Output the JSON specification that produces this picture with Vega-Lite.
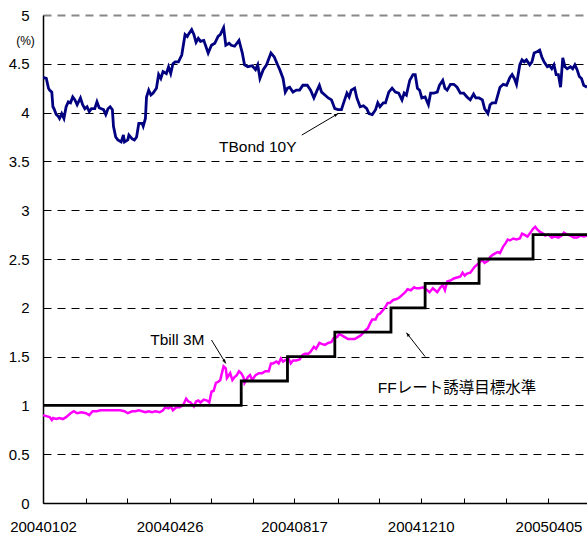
{
  "$schema": "https://vega.github.io/schema/vega-lite/v6.json",
  "width": 544,
  "height": 488,
  "autosize": {"type": "none"},
  "padding": {"left": 43, "top": 15, "right": 0, "bottom": 33},
  "background": "white",
  "config": {
    "view": {"stroke": null},
    "font": "Liberation Sans",
    "axis": {"labelFont": "Liberation Sans", "labelColor": "black", "titleColor": "black", "titleFont": "Liberation Sans"}
  },
  "datasets": {
    "ff": [
      {"date": "2004-01-02", "value": 1.00},
      {"date": "2004-06-30", "value": 1.25},
      {"date": "2004-08-11", "value": 1.50},
      {"date": "2004-09-23", "value": 1.75},
      {"date": "2004-11-13", "value": 2.00},
      {"date": "2004-12-14", "value": 2.25},
      {"date": "2005-02-01", "value": 2.50},
      {"date": "2005-03-22", "value": 2.75},
      {"date": "2005-05-10", "value": 2.75}
    ],
    "bond": [
      {"date":"2004-01-02","value":4.36},{"date":"2004-01-05","value":4.35},{"date":"2004-01-07","value":4.25},{"date":"2004-01-08","value":4.23},{"date":"2004-01-10","value":4.21},{"date":"2004-01-11","value":4.06},{"date":"2004-01-12","value":4.04},{"date":"2004-01-14","value":3.98},{"date":"2004-01-16","value":3.96},{"date":"2004-01-17","value":3.94},{"date":"2004-01-19","value":3.99},{"date":"2004-01-21","value":3.94},{"date":"2004-01-23","value":4.06},{"date":"2004-01-25","value":4.11},{"date":"2004-01-27","value":4.10},{"date":"2004-01-29","value":4.16},{"date":"2004-01-31","value":4.13},
      {"date":"2004-02-02","value":4.08},{"date":"2004-02-05","value":4.15},{"date":"2004-02-07","value":4.08},{"date":"2004-02-09","value":4.04},{"date":"2004-02-11","value":4.06},{"date":"2004-02-13","value":4.01},{"date":"2004-02-15","value":4.04},{"date":"2004-02-18","value":4.04},{"date":"2004-02-20","value":4.11},{"date":"2004-02-22","value":4.05},{"date":"2004-02-24","value":4.04},{"date":"2004-02-26","value":4.03},{"date":"2004-02-28","value":3.98},
      {"date":"2004-03-01","value":4.04},{"date":"2004-03-03","value":4.06},{"date":"2004-03-05","value":4.03},{"date":"2004-03-06","value":3.86},{"date":"2004-03-08","value":3.75},{"date":"2004-03-10","value":3.72},{"date":"2004-03-13","value":3.70},{"date":"2004-03-15","value":3.77},{"date":"2004-03-16","value":3.70},{"date":"2004-03-19","value":3.72},{"date":"2004-03-20","value":3.77},{"date":"2004-03-23","value":3.73},{"date":"2004-03-25","value":3.72},{"date":"2004-03-27","value":3.75},{"date":"2004-03-29","value":3.89},
      {"date":"2004-04-01","value":3.89},{"date":"2004-04-02","value":3.86},{"date":"2004-04-04","value":3.94},{"date":"2004-04-05","value":4.16},{"date":"2004-04-07","value":4.23},{"date":"2004-04-09","value":4.18},{"date":"2004-04-11","value":4.20},{"date":"2004-04-14","value":4.25},{"date":"2004-04-16","value":4.39},{"date":"2004-04-18","value":4.35},{"date":"2004-04-20","value":4.42},{"date":"2004-04-23","value":4.40},{"date":"2004-04-25","value":4.47},{"date":"2004-04-27","value":4.40},{"date":"2004-04-29","value":4.50},
      {"date":"2004-05-01","value":4.52},{"date":"2004-05-04","value":4.52},{"date":"2004-05-07","value":4.59},{"date":"2004-05-10","value":4.80},{"date":"2004-05-12","value":4.78},{"date":"2004-05-13","value":4.80},{"date":"2004-05-16","value":4.85},{"date":"2004-05-18","value":4.80},{"date":"2004-05-20","value":4.72},{"date":"2004-05-22","value":4.76},{"date":"2004-05-24","value":4.73},{"date":"2004-05-27","value":4.74},{"date":"2004-05-31","value":4.61},
      {"date":"2004-06-03","value":4.69},{"date":"2004-06-06","value":4.71},{"date":"2004-06-09","value":4.78},{"date":"2004-06-11","value":4.80},{"date":"2004-06-14","value":4.87},{"date":"2004-06-16","value":4.69},{"date":"2004-06-19","value":4.71},{"date":"2004-06-21","value":4.69},{"date":"2004-06-24","value":4.68},{"date":"2004-06-28","value":4.74},
      {"date":"2004-07-01","value":4.61},{"date":"2004-07-03","value":4.49},{"date":"2004-07-06","value":4.47},{"date":"2004-07-10","value":4.48},{"date":"2004-07-13","value":4.44},{"date":"2004-07-15","value":4.49},{"date":"2004-07-17","value":4.35},{"date":"2004-07-20","value":4.44},{"date":"2004-07-23","value":4.49},{"date":"2004-07-27","value":4.61},{"date":"2004-07-30","value":4.57},
      {"date":"2004-08-02","value":4.49},{"date":"2004-08-04","value":4.44},{"date":"2004-08-07","value":4.35},{"date":"2004-08-09","value":4.21},{"date":"2004-08-11","value":4.25},{"date":"2004-08-13","value":4.26},{"date":"2004-08-16","value":4.21},{"date":"2004-08-19","value":4.23},{"date":"2004-08-22","value":4.23},{"date":"2004-08-25","value":4.28},{"date":"2004-08-29","value":4.28},
      {"date":"2004-09-01","value":4.23},{"date":"2004-09-04","value":4.15},{"date":"2004-09-07","value":4.23},{"date":"2004-09-09","value":4.28},{"date":"2004-09-11","value":4.21},{"date":"2004-09-14","value":4.18},{"date":"2004-09-17","value":4.15},{"date":"2004-09-20","value":4.13},{"date":"2004-09-23","value":4.04},{"date":"2004-09-26","value":4.03},{"date":"2004-09-29","value":4.03},
      {"date":"2004-10-01","value":4.10},{"date":"2004-10-04","value":4.20},{"date":"2004-10-06","value":4.16},{"date":"2004-10-08","value":4.23},{"date":"2004-10-11","value":4.25},{"date":"2004-10-13","value":4.15},{"date":"2004-10-16","value":4.06},{"date":"2004-10-19","value":4.07},{"date":"2004-10-22","value":4.04},{"date":"2004-10-24","value":3.99},{"date":"2004-10-27","value":3.98},{"date":"2004-10-30","value":4.03},
      {"date":"2004-11-01","value":4.10},{"date":"2004-11-03","value":4.06},{"date":"2004-11-06","value":4.10},{"date":"2004-11-08","value":4.10},{"date":"2004-11-11","value":4.21},{"date":"2004-11-14","value":4.25},{"date":"2004-11-17","value":4.21},{"date":"2004-11-20","value":4.20},{"date":"2004-11-23","value":4.13},{"date":"2004-11-25","value":4.20},{"date":"2004-11-27","value":4.18},{"date":"2004-11-30","value":4.33},
      {"date":"2004-12-03","value":4.39},{"date":"2004-12-05","value":4.39},{"date":"2004-12-07","value":4.25},{"date":"2004-12-09","value":4.23},{"date":"2004-12-11","value":4.15},{"date":"2004-12-14","value":4.16},{"date":"2004-12-17","value":4.08},{"date":"2004-12-19","value":4.20},{"date":"2004-12-22","value":4.20},{"date":"2004-12-25","value":4.21},{"date":"2004-12-27","value":4.28},{"date":"2004-12-30","value":4.33},
      {"date":"2005-01-01","value":4.25},{"date":"2005-01-03","value":4.23},{"date":"2005-01-06","value":4.29},{"date":"2005-01-09","value":4.29},{"date":"2005-01-12","value":4.26},{"date":"2005-01-15","value":4.20},{"date":"2005-01-18","value":4.20},{"date":"2005-01-21","value":4.16},{"date":"2005-01-24","value":4.13},{"date":"2005-01-27","value":4.19},{"date":"2005-01-29","value":4.15},
      {"date":"2005-02-01","value":4.15},{"date":"2005-02-04","value":4.13},{"date":"2005-02-06","value":4.04},{"date":"2005-02-09","value":3.99},{"date":"2005-02-11","value":4.08},{"date":"2005-02-13","value":4.10},{"date":"2005-02-16","value":4.10},{"date":"2005-02-18","value":4.18},{"date":"2005-02-20","value":4.26},{"date":"2005-02-23","value":4.29},{"date":"2005-02-26","value":4.28},
      {"date":"2005-03-01","value":4.36},{"date":"2005-03-03","value":4.39},{"date":"2005-03-05","value":4.35},{"date":"2005-03-07","value":4.29},{"date":"2005-03-10","value":4.49},{"date":"2005-03-12","value":4.54},{"date":"2005-03-14","value":4.52},{"date":"2005-03-16","value":4.54},{"date":"2005-03-19","value":4.49},{"date":"2005-03-21","value":4.52},{"date":"2005-03-23","value":4.61},{"date":"2005-03-25","value":4.62},{"date":"2005-03-28","value":4.64},{"date":"2005-03-30","value":4.57},
      {"date":"2005-04-01","value":4.52},{"date":"2005-04-04","value":4.47},{"date":"2005-04-06","value":4.48},{"date":"2005-04-08","value":4.45},{"date":"2005-04-10","value":4.49},{"date":"2005-04-12","value":4.39},{"date":"2005-04-14","value":4.39},{"date":"2005-04-16","value":4.26},{"date":"2005-04-18","value":4.56},{"date":"2005-04-20","value":4.47},{"date":"2005-04-22","value":4.45},{"date":"2005-04-25","value":4.47},{"date":"2005-04-27","value":4.45},{"date":"2005-04-29","value":4.49},
      {"date":"2005-05-01","value":4.44},{"date":"2005-05-03","value":4.37},{"date":"2005-05-05","value":4.35},{"date":"2005-05-07","value":4.28},{"date":"2005-05-10","value":4.26}
    ],
    "bill": [
      {"date":"2004-01-02","value":0.90},{"date":"2004-01-05","value":0.89},{"date":"2004-01-08","value":0.88},{"date":"2004-01-10","value":0.85},{"date":"2004-01-11","value":0.87},{"date":"2004-01-14","value":0.86},{"date":"2004-01-17","value":0.87},{"date":"2004-01-20","value":0.86},{"date":"2004-01-23","value":0.88},{"date":"2004-01-27","value":0.92},{"date":"2004-01-30","value":0.94},
      {"date":"2004-02-02","value":0.92},{"date":"2004-02-06","value":0.93},{"date":"2004-02-10","value":0.92},{"date":"2004-02-13","value":0.90},{"date":"2004-02-16","value":0.94},{"date":"2004-02-20","value":0.94},{"date":"2004-02-23","value":0.95},{"date":"2004-02-29","value":0.95},
      {"date":"2004-03-06","value":0.95},{"date":"2004-03-12","value":0.95},{"date":"2004-03-16","value":0.94},{"date":"2004-03-19","value":0.92},{"date":"2004-03-23","value":0.94},{"date":"2004-03-26","value":0.94},{"date":"2004-03-29","value":0.95},
      {"date":"2004-04-01","value":0.94},{"date":"2004-04-04","value":0.93},{"date":"2004-04-07","value":0.94},{"date":"2004-04-10","value":0.93},{"date":"2004-04-13","value":0.94},{"date":"2004-04-17","value":0.93},{"date":"2004-04-20","value":0.95},{"date":"2004-04-22","value":0.98},{"date":"2004-04-25","value":0.97},{"date":"2004-04-27","value":0.99},{"date":"2004-04-29","value":0.95},
      {"date":"2004-05-02","value":0.98},{"date":"2004-05-05","value":0.98},{"date":"2004-05-08","value":1.00},{"date":"2004-05-09","value":1.02},{"date":"2004-05-11","value":1.07},{"date":"2004-05-13","value":1.04},{"date":"2004-05-15","value":1.03},{"date":"2004-05-18","value":0.99},{"date":"2004-05-20","value":1.04},{"date":"2004-05-22","value":1.05},{"date":"2004-05-24","value":1.03},{"date":"2004-05-27","value":1.06},{"date":"2004-05-30","value":1.05},
      {"date":"2004-06-01","value":1.03},{"date":"2004-06-03","value":1.14},{"date":"2004-06-05","value":1.15},{"date":"2004-06-07","value":1.23},{"date":"2004-06-09","value":1.24},{"date":"2004-06-11","value":1.26},{"date":"2004-06-12","value":1.31},{"date":"2004-06-14","value":1.40},{"date":"2004-06-16","value":1.38},{"date":"2004-06-17","value":1.28},{"date":"2004-06-20","value":1.33},{"date":"2004-06-22","value":1.26},{"date":"2004-06-24","value":1.29},{"date":"2004-06-26","value":1.31},{"date":"2004-06-28","value":1.35},{"date":"2004-06-30","value":1.33},
      {"date":"2004-07-02","value":1.29},{"date":"2004-07-03","value":1.23},{"date":"2004-07-06","value":1.29},{"date":"2004-07-08","value":1.31},{"date":"2004-07-10","value":1.26},{"date":"2004-07-13","value":1.31},{"date":"2004-07-16","value":1.33},{"date":"2004-07-19","value":1.33},{"date":"2004-07-22","value":1.35},{"date":"2004-07-25","value":1.35},{"date":"2004-07-27","value":1.43},{"date":"2004-07-29","value":1.43},
      {"date":"2004-08-01","value":1.45},{"date":"2004-08-03","value":1.43},{"date":"2004-08-05","value":1.48},{"date":"2004-08-07","value":1.45},{"date":"2004-08-10","value":1.47},{"date":"2004-08-12","value":1.48},{"date":"2004-08-14","value":1.43},{"date":"2004-08-16","value":1.46},{"date":"2004-08-19","value":1.46},{"date":"2004-08-22","value":1.47},{"date":"2004-08-25","value":1.52},{"date":"2004-08-27","value":1.53},{"date":"2004-08-30","value":1.53},
      {"date":"2004-09-01","value":1.55},{"date":"2004-09-04","value":1.60},{"date":"2004-09-06","value":1.58},{"date":"2004-09-09","value":1.64},{"date":"2004-09-11","value":1.63},{"date":"2004-09-14","value":1.62},{"date":"2004-09-17","value":1.64},{"date":"2004-09-20","value":1.65},{"date":"2004-09-22","value":1.69},{"date":"2004-09-25","value":1.70},{"date":"2004-09-27","value":1.73},{"date":"2004-09-29","value":1.72},
      {"date":"2004-10-02","value":1.70},{"date":"2004-10-05","value":1.68},{"date":"2004-10-08","value":1.68},{"date":"2004-10-11","value":1.68},{"date":"2004-10-14","value":1.70},{"date":"2004-10-17","value":1.72},{"date":"2004-10-20","value":1.76},{"date":"2004-10-23","value":1.79},{"date":"2004-10-25","value":1.84},{"date":"2004-10-27","value":1.88},{"date":"2004-10-30","value":1.88},
      {"date":"2004-11-01","value":1.93},{"date":"2004-11-03","value":1.94},{"date":"2004-11-06","value":1.98},{"date":"2004-11-08","value":2.01},{"date":"2004-11-10","value":2.05},{"date":"2004-11-12","value":2.05},{"date":"2004-11-15","value":2.08},{"date":"2004-11-18","value":2.09},{"date":"2004-11-20","value":2.10},{"date":"2004-11-23","value":2.13},{"date":"2004-11-26","value":2.16},{"date":"2004-11-28","value":2.19},
      {"date":"2004-12-01","value":2.18},{"date":"2004-12-04","value":2.21},{"date":"2004-12-06","value":2.20},{"date":"2004-12-09","value":2.20},{"date":"2004-12-12","value":2.21},{"date":"2004-12-16","value":2.18},{"date":"2004-12-18","value":2.16},{"date":"2004-12-21","value":2.20},{"date":"2004-12-23","value":2.18},{"date":"2004-12-25","value":2.16},{"date":"2004-12-28","value":2.21},{"date":"2004-12-30","value":2.23},
      {"date":"2005-01-01","value":2.18},{"date":"2005-01-03","value":2.27},{"date":"2005-01-06","value":2.28},{"date":"2005-01-09","value":2.30},{"date":"2005-01-12","value":2.31},{"date":"2005-01-15","value":2.32},{"date":"2005-01-17","value":2.36},{"date":"2005-01-19","value":2.33},{"date":"2005-01-21","value":2.35},{"date":"2005-01-24","value":2.36},{"date":"2005-01-26","value":2.39},{"date":"2005-01-28","value":2.42},{"date":"2005-01-30","value":2.44},
      {"date":"2005-02-02","value":2.47},{"date":"2005-02-04","value":2.49},{"date":"2005-02-06","value":2.46},{"date":"2005-02-09","value":2.48},{"date":"2005-02-11","value":2.52},{"date":"2005-02-13","value":2.54},{"date":"2005-02-16","value":2.56},{"date":"2005-02-18","value":2.57},{"date":"2005-02-20","value":2.56},{"date":"2005-02-23","value":2.63},{"date":"2005-02-25","value":2.66},{"date":"2005-02-27","value":2.70},
      {"date":"2005-03-01","value":2.69},{"date":"2005-03-04","value":2.71},{"date":"2005-03-07","value":2.70},{"date":"2005-03-10","value":2.71},{"date":"2005-03-12","value":2.76},{"date":"2005-03-14","value":2.75},{"date":"2005-03-17","value":2.73},{"date":"2005-03-19","value":2.76},{"date":"2005-03-22","value":2.81},{"date":"2005-03-24","value":2.83},{"date":"2005-03-26","value":2.80},{"date":"2005-03-28","value":2.78},{"date":"2005-03-31","value":2.76},
      {"date":"2005-04-02","value":2.74},{"date":"2005-04-05","value":2.75},{"date":"2005-04-08","value":2.72},{"date":"2005-04-11","value":2.73},{"date":"2005-04-14","value":2.72},{"date":"2005-04-17","value":2.74},{"date":"2005-04-19","value":2.77},{"date":"2005-04-22","value":2.75},{"date":"2005-04-25","value":2.74},{"date":"2005-04-28","value":2.72},
      {"date":"2005-05-01","value":2.72},{"date":"2005-05-04","value":2.74},{"date":"2005-05-07","value":2.73},{"date":"2005-05-10","value":2.74}
    ],
    "arrows": [
      {"label": "TBond 10Y", "x1": "2004-08-24", "y1": 3.77, "x2": "2004-09-26", "y2": 3.99},
      {"label": "Tbill 3M", "x1": "2004-06-03", "y1": 1.67, "x2": "2004-06-16", "y2": 1.43},
      {"label": "FF", "x1": "2004-12-14", "y1": 1.50, "x2": "2004-11-27", "y2": 1.745}
    ],
    "labels": [
      {"text": "TBond 10Y", "date": "2004-07-15", "value": 3.65},
      {"text": "Tbill 3M", "date": "2004-05-03", "value": 1.67},
      {"text": "FFレート誘導目標水準", "date": "2005-01-12", "value": 1.175}
    ]
  },
  "layer": [
    {
      "data": {"name": "bill"},
      "mark": {"type": "line", "color": "#FF00FF", "strokeWidth": 2.5, "clip": true},
      "encoding": {
        "x": {
          "field": "date", "type": "temporal",
          "scale": {"type": "utc", "domain": [{"year": 2004, "month": 1, "date": 2, "utc": true}, {"year": 2005, "month": 5, "date": 10, "utc": true}]},
          "axis": {
            "title": null, "grid": false,
            "values": [
              {"year": 2004, "month": 1, "date": 2, "utc": true},
              {"year": 2004, "month": 2, "date": 10, "utc": true},
              {"year": 2004, "month": 3, "date": 18, "utc": true},
              {"year": 2004, "month": 4, "date": 26, "utc": true},
              {"year": 2004, "month": 6, "date": 3, "utc": true},
              {"year": 2004, "month": 7, "date": 11, "utc": true},
              {"year": 2004, "month": 8, "date": 17, "utc": true},
              {"year": 2004, "month": 9, "date": 26, "utc": true},
              {"year": 2004, "month": 11, "date": 2, "utc": true},
              {"year": 2004, "month": 12, "date": 10, "utc": true},
              {"year": 2005, "month": 1, "date": 18, "utc": true},
              {"year": 2005, "month": 2, "date": 25, "utc": true},
              {"year": 2005, "month": 4, "date": 5, "utc": true}
            ],
            "labelExpr": "indexof(['20040102','20040426','20040817','20041210','20050405'], utcFormat(datum.value, '%Y%m%d')) >= 0 ? utcFormat(datum.value, '%Y%m%d') : ''",
            "labelOverlap": false, "labelFlush": false, "labelBound": false,
            "labelFontSize": 15, "labelPadding": 21,
            "domainColor": "black", "domainWidth": 1.5,
            "tickColor": "black", "tickWidth": 1, "tickSize": -5
          }
        },
        "y": {
          "field": "value", "type": "quantitative",
          "scale": {"domain": [0, 5], "nice": false, "zero": false},
          "axis": {
            "values": [0, 0.5, 1, 1.5, 2, 2.5, 3, 3.5, 4, 4.5, 5],
            "format": "~g",
            "ticks": false,
            "labelFontSize": 15, "labelPadding": 14,
            "domainColor": "black", "domainWidth": 1.5,
            "grid": true,
            "gridColor": {"condition": {"test": "datum.value == 5", "value": "#888888"}, "value": "black"},
            "gridWidth": {"condition": {"test": "datum.value == 5", "value": 2}, "value": 1},
            "gridDash": [8, 6],
            "title": "(%)", "titleAngle": 0, "titleX": -18, "titleY": 25,
            "titleFontSize": 12, "titleFontWeight": "normal",
            "titleAlign": "center", "titleBaseline": "middle"
          }
        }
      }
    },
    {
      "data": {"name": "ff"},
      "mark": {"type": "line", "color": "black", "strokeWidth": 2.8, "interpolate": "step-after", "clip": true},
      "encoding": {
        "x": {"field": "date", "type": "temporal"},
        "y": {"field": "value", "type": "quantitative"}
      }
    },
    {
      "data": {"name": "bond"},
      "mark": {"type": "line", "color": "#000080", "strokeWidth": 2.8, "clip": true},
      "encoding": {
        "x": {"field": "date", "type": "temporal"},
        "y": {"field": "value", "type": "quantitative"}
      }
    },
    {
      "data": {"name": "arrows"},
      "mark": {"type": "rule", "color": "black", "strokeWidth": 1},
      "encoding": {
        "x": {"field": "x1", "type": "temporal"},
        "x2": {"field": "x2"},
        "y": {"field": "y1", "type": "quantitative"},
        "y2": {"field": "y2"}
      }
    },
    {
      "data": {"name": "arrows"},
      "transform": [{"filter": "datum.label == 'TBond 10Y'"}],
      "mark": {"type": "point", "shape": "M0,0 L-0.5,1.3 L0.5,1.3 Z", "filled": true, "color": "black", "opacity": 1, "size": 40, "angle": 59},
      "encoding": {
        "x": {"field": "x2", "type": "temporal"},
        "y": {"field": "y2", "type": "quantitative"}
      }
    },
    {
      "data": {"name": "arrows"},
      "transform": [{"filter": "datum.label == 'Tbill 3M'"}],
      "mark": {"type": "point", "shape": "M0,0 L-0.5,1.3 L0.5,1.3 Z", "filled": true, "color": "black", "opacity": 1, "size": 40, "angle": 148},
      "encoding": {
        "x": {"field": "x2", "type": "temporal"},
        "y": {"field": "y2", "type": "quantitative"}
      }
    },
    {
      "data": {"name": "arrows"},
      "transform": [{"filter": "datum.label == 'FF'"}],
      "mark": {"type": "point", "shape": "M0,0 L-0.5,1.3 L0.5,1.3 Z", "filled": true, "color": "black", "opacity": 1, "size": 40, "angle": 323},
      "encoding": {
        "x": {"field": "x2", "type": "temporal"},
        "y": {"field": "y2", "type": "quantitative"}
      }
    },
    {
      "data": {"name": "labels"},
      "mark": {"type": "text", "font": "Liberation Sans, Noto Sans CJK JP", "fontSize": 15.5, "color": "black", "align": "center", "baseline": "middle"},
      "encoding": {
        "x": {"field": "date", "type": "temporal"},
        "y": {"field": "value", "type": "quantitative"},
        "text": {"field": "text"}
      }
    }
  ]
}
